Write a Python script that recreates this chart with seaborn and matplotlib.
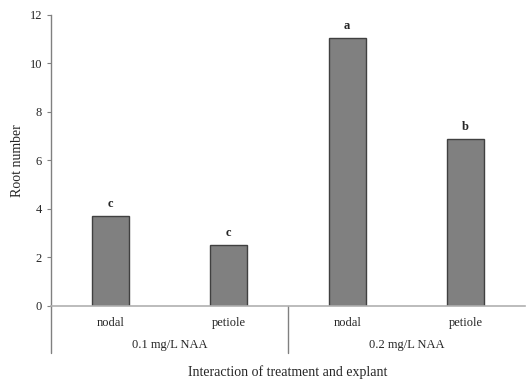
import pandas as pd
import matplotlib.pyplot as plt
import matplotlib.transforms as mtransforms
import seaborn as sns

# data
treatments = ['0.1 mg/L NAA', '0.1 mg/L NAA', '0.2 mg/L NAA', '0.2 mg/L NAA']
explants = ['nodal', 'petiole', 'nodal', 'petiole']
root_number = [3.7, 2.5, 11.05, 6.9]
letters = ['c', 'c', 'a', 'b']
groups = ['0.1 mg/L NAA', '0.2 mg/L NAA']

df = pd.DataFrame({'key': [t + ' ' + e for t, e in zip(treatments, explants)],
                   'explant': explants, 'value': root_number})

sns.set_style('white')
plt.rcParams['font.family'] = ['Liberation Serif', 'DejaVu Serif']

fig = plt.figure(figsize=(5.26, 3.81), dpi=100)
ax = fig.add_axes([0.097, 0.197, 0.901, 0.764])

sns.barplot(x='key', y='value', data=df, color='#808080', width=0.31,
            edgecolor='#404040', linewidth=1.0, saturation=1, ax=ax)

ax.set_xlim(-0.5, 3.5)
ax.set_ylim(0, 12)
ax.set_yticks(range(0, 13, 2))
ax.tick_params(axis='y', labelsize=9, length=3, width=0.8, color='#808080',
               direction='out', left=True)
ax.tick_params(axis='x', labelsize=9, length=0, pad=8)
ax.set_xticks(range(len(explants)))
ax.set_xticklabels(explants)

for s in ['top', 'right']:
    ax.spines[s].set_visible(False)
ax.spines['left'].set_color('#808080')
ax.spines['bottom'].set_color('#b0b0b0')
ax.spines['left'].set_linewidth(1.0)
ax.spines['bottom'].set_linewidth(1.2)

# significance letters
for i, (v, l) in enumerate(zip(root_number, letters)):
    ax.text(i, v + 0.25, l, ha='center', va='bottom', fontsize=9, fontweight='bold')

# group separators and group labels under the axis
trans = mtransforms.blended_transform_factory(ax.transData, ax.transAxes)
for xpos in [-0.5, 1.5]:
    ax.plot([xpos, xpos], [0, -0.16], transform=trans, color='#808080',
            lw=1.0, clip_on=False)
for j, g in enumerate(groups):
    ax.text(2 * j + 0.5, -0.135, g, transform=trans, ha='center', va='center', fontsize=9)

ax.set_ylabel('Root number', fontsize=10)
ax.set_xlabel('Interaction of treatment and explant', fontsize=10, labelpad=26)

fig.savefig('out.png', dpi=100)
